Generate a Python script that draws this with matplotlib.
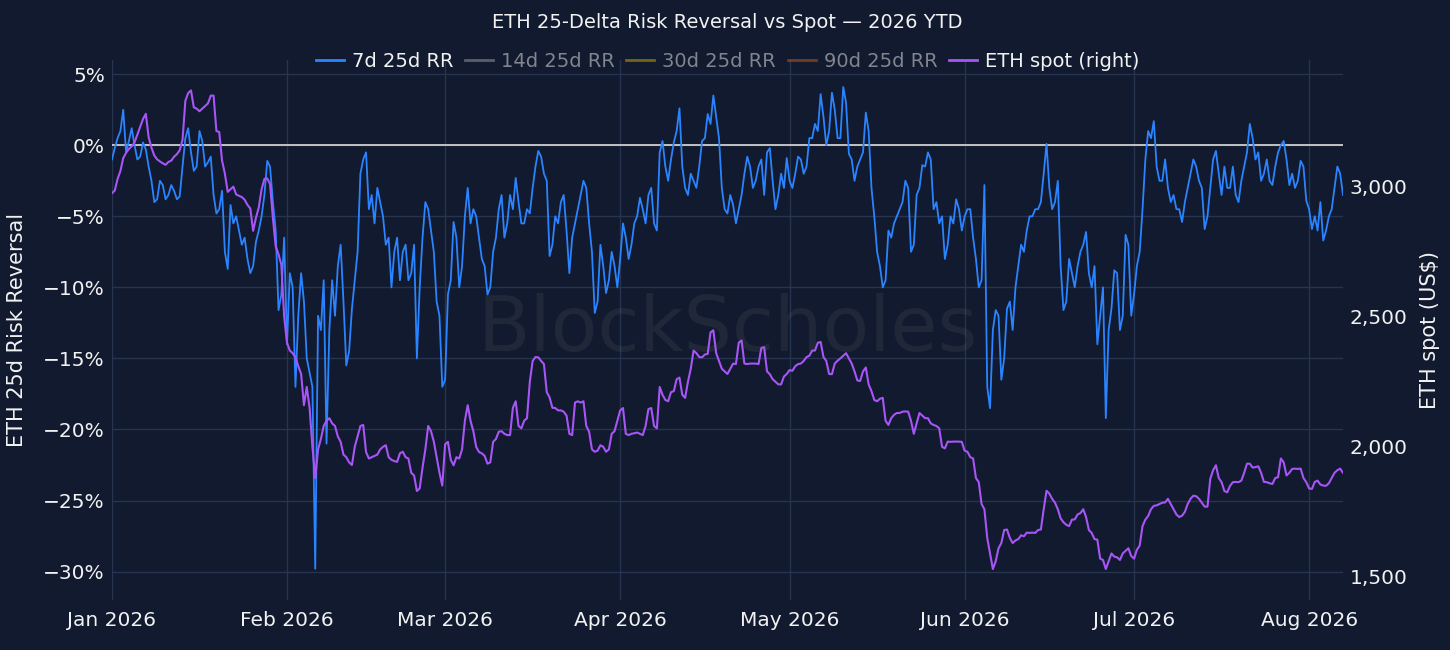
import numpy as np
import pandas as pd
import matplotlib
matplotlib.use('Agg')
import matplotlib.pyplot as plt
import matplotlib.dates as mdates
from matplotlib.lines import Line2D
from matplotlib.ticker import FuncFormatter, FixedLocator

plt.rcParams['font.family'] = ['DejaVu Sans']

# readings from Jan 1 2026: one value at midnight and one at midday for each day
start_date = '2026-01-01'

rr_7d = [
    -1.0, 0.5, 2.5, 0.3, 0.0, -0.8, -0.3, -2.5, -3.8, -2.8,
    -3.5, -3.2, -3.6, 0.5, -0.5, -1.5, 0.3, -1.2, -3.5, -4.5,
    -7.5, -4.2, -5.0, -7.0, -8.0, -8.5, -6.0, -3.5, -1.5, -6.0,
    -10.5, -14.0, -10.0, -12.0, -11.0, -16.0, -29.8, -13.0, -21.0, -9.5,
    -8.5, -11.0, -14.5, -9.5, -2.0, -0.5, -3.5, -3.0, -5.0, -6.5,
    -7.5, -9.5, -7.0, -9.0, -15.0, -6.5, -4.5, -7.5, -12.0, -16.5,
    -9.5, -6.5, -8.5, -3.0, -4.5, -6.5, -8.5, -10.0, -6.5, -3.5,
    -5.5, -4.5, -4.0, -5.5, -4.8, -1.5, -0.8, -2.5, -7.0, -5.5,
    -3.5, -9.0, -5.5, -3.5, -3.0, -7.5, -11.0, -8.5, -9.5, -8.5,
    -8.0, -6.5, -7.0, -5.0, -4.5, -3.5, -5.5, -0.5, -1.5, -1.0,
    1.0, -1.5, -3.5, -2.5, -1.5, 0.5, 1.5, 2.0, -3.0, -4.8,
    -4.2, -4.5, -2.0, -1.5, -2.5, -1.0, -0.5, -2.5, -3.5, -3.0,
    -2.5, -2.0, -1.0, -1.5, 0.5, 1.0, 2.0, 1.0, 2.5, 0.5,
    3.0, -1.0, -1.5, -0.5, 1.0, -5.0, -8.5, -9.5, -6.5, -5.0,
    -4.0, -3.0, -7.0, -3.0, -1.5, -1.0, -4.0, -5.0, -7.0, -5.5,
    -4.5, -5.0, -4.5, -8.0, -9.5, -17.0, -13.0, -12.0, -15.0, -11.0,
    -10.0, -7.0, -6.0, -5.0, -4.5, -2.0, -3.0, -4.0, -8.5, -11.0,
    -9.0, -8.5, -7.0, -9.0, -8.5, -12.0, -19.2, -11.5, -9.0, -12.0,
    -7.0, -10.5, -7.5, -1.0, 0.5, -1.5, -2.5, -3.0, -3.5, -4.5,
    -4.0, -2.0, -1.5, -3.0, -5.0, -1.0, -2.0, -1.5, -3.0, -3.5,
    -2.5, -0.5, 0.5, -0.5, -2.0, -2.5, -1.5, 0.0, -1.0, -2.0,
    -2.5, -1.5, -4.5, -5.0, -4.0, -6.0, -4.5, -1.5, -3.5,
]

rr_7d_midday = [
    -0.2, 1.0, -0.5, 1.2, -1.0, 0.2, -1.5, -4.0, -2.5, -3.8,
    -2.8, -3.8, -1.5, 1.2, -1.8, 1.0, -1.5, -0.8, -4.8, -3.2,
    -8.7, -5.5, -6.0, -6.5, -9.0, -6.8, -5.0, -1.1, -4.0, -11.6,
    -6.5, -9.0, -17.0, -9.0, -15.0, -17.0, -12.0, -9.5, -13.0, -12.0,
    -7.0, -15.5, -11.5, -7.5, -1.0, -4.5, -5.5, -4.0, -7.0, -10.0,
    -6.5, -7.5, -9.5, -7.0, -10.0, -4.0, -6.0, -11.0, -17.0, -10.5,
    -5.4, -10.0, -5.0, -5.5, -5.0, -8.0, -10.5, -7.5, -4.5, -6.5,
    -3.5, -2.3, -5.5, -4.5, -3.0, -0.4, -2.0, -7.8, -5.0, -4.0,
    -6.0, -6.5, -4.5, -2.5, -5.5, -11.8, -7.0, -10.4, -7.5, -10.0,
    -5.5, -8.0, -5.5, -3.7, -5.5, -3.0, -6.0, 0.3, -2.5, 0.2,
    2.6, -3.0, -2.0, -3.0, 0.3, 2.2, 3.5, 0.5, -4.5, -3.5,
    -5.5, -3.5, -0.8, -3.0, -1.5, -3.5, -0.2, -4.5, -2.0, -0.9,
    -3.0, -0.8, -2.0, 0.5, 1.5, 3.6, 0.0, 3.7, 0.5, 4.1,
    -0.6, -2.5, -1.0, 2.3, -3.0, -7.5, -10.0, -6.0, -5.5, -4.5,
    -2.5, -7.5, -3.5, -1.4, -0.5, -4.5, -5.5, -8.0, -5.0, -3.8,
    -6.0, -4.5, -6.5, -10.0, -2.8, -18.5, -11.6, -16.5, -11.5, -13.0,
    -8.5, -7.5, -5.0, -4.5, -4.0, 0.1, -4.5, -2.5, -11.6, -8.0,
    -10.0, -7.5, -6.1, -10.0, -14.0, -10.0, -13.0, -8.8, -13.0, -6.3,
    -12.0, -8.5, -4.5, 1.0, 1.7, -2.5, -1.0, -4.0, -4.5, -5.4,
    -3.0, -1.0, -2.5, -5.9, -3.0, -0.4, -3.5, -3.0, -1.5, -4.0,
    -1.5, 1.5, -1.0, -2.5, -1.0, -2.8, -0.5, 0.3, -2.8, -3.0,
    -1.1, -3.9, -5.9, -6.0, -6.7, -5.0, -3.0, -2.0,
]

eth_spot = [
    2975, 3030, 3110, 3145, 3170, 3230, 3280, 3150, 3105, 3090,
    3095, 3115, 3140, 3330, 3370, 3300, 3300, 3320, 3350, 3210,
    3050, 2990, 2970, 2960, 2930, 2830, 2920, 3030, 3010, 2770,
    2700, 2400, 2360, 2310, 2160, 2150, 1880, 2030, 2100, 2090,
    2040, 1970, 1940, 2000, 2080, 1980, 1960, 1970, 2000, 1960,
    1945, 1975, 1960, 1900, 1830, 1920, 2080, 2020, 1900, 2010,
    1950, 1960, 1990, 2160, 2060, 1980, 1965, 1940, 2030, 2060,
    2045, 2150, 2080, 2100, 2250, 2345, 2330, 2210, 2150, 2140,
    2135, 2050, 2170, 2170, 2080, 1990, 1985, 2000, 1990, 2060,
    2140, 2050, 2050, 2055, 2045, 2145, 2080, 2230, 2180, 2210,
    2260, 2200, 2250, 2370, 2345, 2355, 2440, 2360, 2300, 2280,
    2320, 2400, 2320, 2320, 2320, 2380, 2290, 2260, 2240, 2270,
    2295, 2310, 2320, 2345, 2370, 2400, 2345, 2280, 2320, 2340,
    2360, 2320, 2255, 2290, 2240, 2180, 2185, 2100, 2110, 2130,
    2135, 2135, 2050, 2130, 2110, 2090, 2080, 2000, 2020, 2020,
    2020, 1985, 1960, 1880, 1780, 1650, 1530, 1610, 1680, 1650,
    1640, 1660, 1670, 1670, 1680, 1760, 1820, 1785, 1725, 1700,
    1720, 1740, 1760, 1680, 1645, 1570, 1530, 1590, 1575, 1590,
    1610, 1570, 1620, 1720, 1760, 1775, 1785, 1800, 1760, 1730,
    1750, 1800, 1810, 1785, 1770, 1910, 1880, 1830, 1850, 1865,
    1870, 1935, 1920, 1925, 1865, 1860, 1880, 1955, 1890, 1915,
    1915, 1880, 1840, 1865, 1855, 1850, 1880, 1910, 1900,
]

eth_spot_midday = [
    2985, 3060, 3130, 3155, 3200, 3260, 3190, 3120, 3097, 3084,
    3100, 3125, 3180, 3360, 3305, 3290, 3310, 3350, 3214, 3100,
    2980, 3000, 2965, 2950, 2916, 2880, 2990, 3032, 2880, 2740,
    2500, 2370, 2344, 2280, 2230, 2000, 1990, 2080, 2110, 2080,
    2019, 1960, 1930, 2040, 2084, 1955, 1965, 1990, 2006, 1950,
    1942, 1981, 1955, 1890, 1840, 1990, 2060, 1960, 1851, 2019,
    1929, 1955, 2100, 2100, 2000, 1975, 1935, 2019, 2058, 2050,
    2045, 2175, 2071, 2110, 2330, 2344, 2318, 2190, 2149, 2140,
    2120, 2045, 2175, 2175, 2058, 1981, 2006, 1981, 2050, 2100,
    2149, 2045, 2052, 2050, 2080, 2149, 2071, 2200, 2175, 2214,
    2266, 2188, 2300, 2360, 2344, 2357, 2448, 2330, 2290, 2300,
    2318, 2409, 2318, 2320, 2318, 2383, 2279, 2250, 2240, 2280,
    2292, 2318, 2330, 2350, 2370, 2403, 2330, 2279, 2331, 2350,
    2340, 2290, 2253, 2305, 2214, 2175, 2188, 2084, 2123, 2130,
    2136, 2100, 2090, 2120, 2110, 2084, 2071, 1994, 2019, 2020,
    2019, 1981, 1955, 1864, 1760, 1591, 1560, 1630, 1682, 1630,
    1645, 1656, 1669, 1669, 1682, 1831, 1800, 1760, 1710, 1695,
    1721, 1745, 1730, 1669, 1643, 1565, 1560, 1578, 1565, 1600,
    1580, 1604, 1695, 1734, 1773, 1780, 1786, 1780, 1740, 1735,
    1780, 1812, 1800, 1770, 1877, 1929, 1864, 1825, 1864, 1864,
    1900, 1935, 1922, 1900, 1864, 1857, 1883, 1940, 1900, 1916,
    1916, 1864, 1838, 1870, 1851, 1860, 1900, 1916,
]

legend_names = ['7d 25d RR', '14d 25d RR', '30d 25d RR', '90d 25d RR', 'ETH spot (right)']
legend_colors = ['#2b84ff', '#8c8c8c', '#b8960f', '#b0521e', '#a855f7']
legend_shown = [True, False, False, False, True]

dates = pd.date_range(start_date, periods=len(rr_7d), freq='D')
noon = dates[:len(rr_7d_midday)] + pd.Timedelta(hours=12)
rr = pd.concat([pd.Series(rr_7d, index=dates), pd.Series(rr_7d_midday, index=noon)]).sort_index()
spot = pd.concat([pd.Series(eth_spot, index=dates), pd.Series(eth_spot_midday, index=noon)]).sort_index()

BG = '#111a2e'
GRID = '#26344f'
TXT = '#f2f2f2'

fig = plt.figure(figsize=(14.5, 6.5), dpi=100, facecolor=BG)
ax = fig.add_axes([0.0772, 0.0769, 0.8490, 0.8308])
ax.set_facecolor(BG)
ax2 = ax.twinx()

ax.plot(rr.index, rr.values, color=legend_colors[0], lw=1.3, zorder=3)
ax.axhline(0, color='#cfcfcf', lw=1.3, zorder=2)
ax2.plot(spot.index, spot.values, color=legend_colors[4], lw=1.5, zorder=3)

ax.set_ylim(-32, 6)
ax2.set_ylim(1411, 3487)
ax.set_xlim(dates[0], dates[-1])

ax.yaxis.set_major_locator(FixedLocator([5, 0, -5, -10, -15, -20, -25, -30]))
ax.yaxis.set_major_formatter(FuncFormatter(lambda v, p: f'{v:.0f}%'.replace('-', '\u2212')))
ax2.yaxis.set_major_locator(FixedLocator([1500, 2000, 2500, 3000]))
ax2.yaxis.set_major_formatter(FuncFormatter(lambda v, p: f'{v:,.0f}'))
ax.xaxis.set_major_locator(mdates.MonthLocator())
ax.xaxis.set_major_formatter(mdates.DateFormatter('%b %Y'))

ax.grid(True, color=GRID, lw=1)
ax.set_axisbelow(True)
for a in (ax, ax2):
    for s in a.spines.values():
        s.set_visible(False)
ax.tick_params(axis='y', length=0, pad=5, labelsize=14.5, colors=TXT)
ax.tick_params(axis='x', length=0, pad=8, labelsize=14.5, colors=TXT)
ax2.tick_params(axis='y', length=0, pad=5, labelsize=14.5, colors=TXT)

# watermark
ax2.text(0.5, 0.5, 'BlockScholes', transform=ax.transAxes, fontsize=55,
         color='#808080', alpha=0.13, ha='center', va='center', zorder=10)

fig.text(0.0117, 0.492, 'ETH 25d Risk Reversal', rotation=90, ha='center', va='center',
         fontsize=15, color=TXT)
fig.text(0.986, 0.492, 'ETH spot (US$)', rotation=90, ha='center', va='center',
         fontsize=15, color=TXT)
fig.text(0.5017, 0.966, 'ETH 25-Delta Risk Reversal vs Spot \u2014 2026 YTD', ha='center', va='center',
         fontsize=14, color=TXT)

handles = [Line2D([], [], color=c, lw=2, alpha=1.0 if on else 0.6)
           for c, on in zip(legend_colors, legend_shown)]
leg = fig.legend(handles, legend_names, loc='center', bbox_to_anchor=(0.5017, 0.905), ncol=5,
                 frameon=False, fontsize=14, handlelength=1.45, handletextpad=0.4, columnspacing=0.6)
for t, on in zip(leg.get_texts(), legend_shown):
    t.set_color(TXT if on else '#80858f')

fig.savefig('out.png', dpi=100, facecolor=BG)
